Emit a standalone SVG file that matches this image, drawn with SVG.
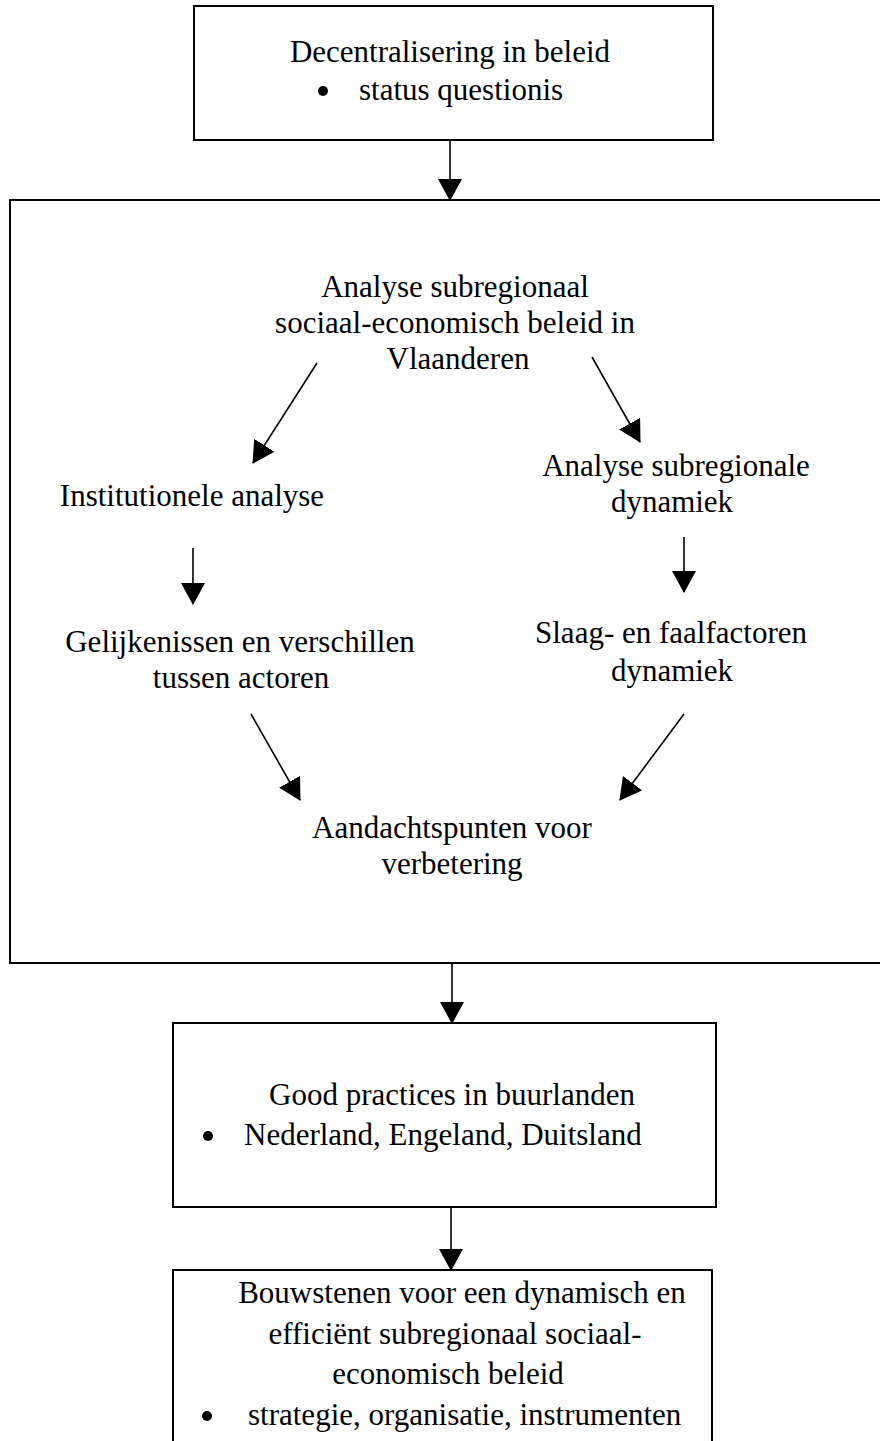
<svg xmlns="http://www.w3.org/2000/svg" width="880" height="1441" viewBox="0 0 880 1441">
<style>
.box{fill:none;stroke:#000;stroke-width:2}
.t{font-family:"Liberation Serif","Times New Roman",serif;font-size:31px;fill:#000}
.c{text-anchor:middle}
.con{stroke:#000;stroke-width:1.6;fill:none;marker-end:url(#ah)}
</style>
<defs>
<marker id="ah" markerWidth="22" markerHeight="24" refX="21" refY="12" orient="auto" markerUnits="userSpaceOnUse">
<path d="M0,0 L22,12 L0,24 z" fill="#000"/>
</marker>
</defs>
<rect width="880" height="1441" fill="#fff"/>

<g id="n-decentralisering">
<rect class="box" x="194" y="6" width="519" height="134"/>
<text class="t c" x="450" y="62">Decentralisering in beleid</text>
<circle cx="323" cy="91" r="5"/>
<text class="t" x="359" y="100">status questionis</text>
</g>

<g id="n-analyse-kader">
<rect class="box" x="10" y="200" width="880" height="763"/>
</g>

<g id="n-analyse-subregionaal">
<text class="t c" x="455" y="297">Analyse subregionaal</text>
<text class="t c" x="455" y="333">sociaal-economisch beleid in</text>
<text class="t c" x="458" y="369">Vlaanderen</text>
</g>

<g id="n-institutionele">
<text class="t c" x="192" y="506">Institutionele analyse</text>
</g>

<g id="n-dynamiek">
<text class="t c" x="676" y="476">Analyse subregionale</text>
<text class="t c" x="672" y="512">dynamiek</text>
</g>

<g id="n-gelijkenissen">
<text class="t c" x="240" y="652">Gelijkenissen en verschillen</text>
<text class="t c" x="241" y="688">tussen actoren</text>
</g>

<g id="n-slaag">
<text class="t c" x="671" y="643">Slaag- en faalfactoren</text>
<text class="t c" x="672" y="681">dynamiek</text>
</g>

<g id="n-aandachtspunten">
<text class="t c" x="452" y="838">Aandachtspunten voor</text>
<text class="t c" x="452" y="874">verbetering</text>
</g>

<g id="n-good-practices">
<rect class="box" x="173" y="1023" width="543" height="184"/>
<text class="t c" x="452" y="1105">Good practices in buurlanden</text>
<circle cx="208" cy="1136" r="5"/>
<text class="t" x="244" y="1145">Nederland, Engeland, Duitsland</text>
</g>

<g id="n-bouwstenen">
<rect class="box" x="173" y="1270" width="539" height="200"/>
<text class="t c" x="462" y="1303">Bouwstenen voor een dynamisch en</text>
<text class="t c" x="455" y="1344">efficiënt subregionaal sociaal-</text>
<text class="t c" x="448" y="1384">economisch beleid</text>
<circle cx="207" cy="1416" r="5"/>
<text class="t" x="248" y="1425">strategie, organisatie, instrumenten</text>
</g>

<g id="connectors">
<line class="con" x1="450" y1="140" x2="450" y2="200"/>
<line class="con" x1="317" y1="363" x2="253" y2="463"/>
<line class="con" x1="592" y1="357" x2="640" y2="442"/>
<line class="con" x1="193" y1="548" x2="193" y2="604"/>
<line class="con" x1="684" y1="537" x2="684" y2="592"/>
<line class="con" x1="251" y1="714" x2="300" y2="800"/>
<line class="con" x1="684" y1="714" x2="620" y2="800"/>
<line class="con" x1="452" y1="963" x2="452" y2="1023"/>
<line class="con" x1="451" y1="1207" x2="451" y2="1270"/>
</g>
</svg>
